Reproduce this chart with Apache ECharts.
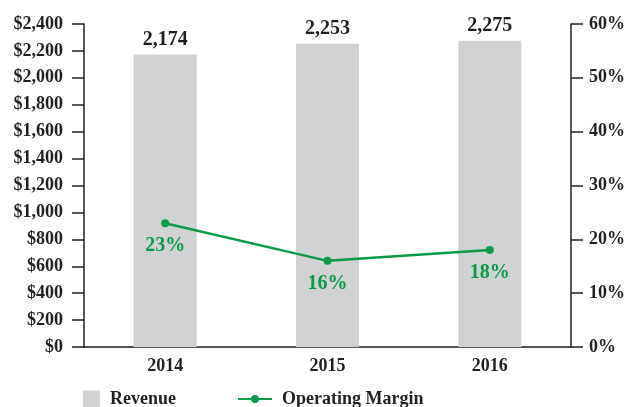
<!DOCTYPE html>
<html>
<head>
<meta charset="UTF-8">
<title>Revenue and Operating Margin</title>
<script src="https://cdn.jsdelivr.net/npm/echarts@6/dist/echarts.min.js"></script>
<style>
    html, body { margin: 0; padding: 0; background: #fff; }
    #main { width: 628px; height: 407px; }
</style>
</head>
<body>
<div id="main"></div>
<script>
    var years = ['2014', '2015', '2016'];
    var revenue = [2174, 2253, 2275];
    var margin = [23, 16, 18];

    var font = 'Liberation Serif';
    var ink = '#231f20';
    var green = '#0a9a48';

    function comma(v) {
        return String(v).replace(/\B(?=(\d{3})+(?!\d))/g, ',');
    }

    var chart = echarts.init(document.getElementById('main'));

    var option = {
        animation: false,
        textStyle: { fontFamily: font, color: ink },
        grid: { left: 84, right: 56, top: 24, bottom: 60 },
        legend: [{
            left: 78, bottom: -6,
            itemWidth: 17, itemHeight: 17,
            textStyle: { fontFamily: font, fontSize: 18, fontWeight: 'bold', color: ink, padding: [0, 0, 0, 5] },
            data: [{ name: 'Revenue', icon: 'rect' }]
        }, {
            left: 232, bottom: -6,
            itemWidth: 34, itemHeight: 10,
            textStyle: { fontFamily: font, fontSize: 18, fontWeight: 'bold', color: ink, padding: [0, 0, 0, 5] },
            data: ['Operating Margin']
        }],
        xAxis: {
            type: 'category',
            data: years,
            axisTick: { show: false },
            axisLine: { lineStyle: { color: ink, width: 1.5 } },
            axisLabel: { fontFamily: font, fontSize: 18, fontWeight: 'bold', color: ink, margin: 10 }
        },
        yAxis: [{
            type: 'value',
            min: 0, max: 2400, interval: 200,
            splitLine: { show: false },
            axisLine: { show: true, lineStyle: { color: ink, width: 1.5 } },
            axisTick: { show: true, inside: false, length: 12, lineStyle: { color: ink, width: 1.5 } },
            axisLabel: {
                fontFamily: font, fontSize: 18, fontWeight: 'bold', color: ink, margin: 21,
                formatter: function (v) { return '$' + comma(v); }
            }
        }, {
            type: 'value',
            position: 'right',
            min: 0, max: 60, interval: 10,
            splitLine: { show: false },
            axisLine: { show: true, lineStyle: { color: ink, width: 1.5 } },
            axisTick: { show: true, inside: false, length: 12, lineStyle: { color: ink, width: 1.5 } },
            axisLabel: {
                fontFamily: font, fontSize: 18, fontWeight: 'bold', color: ink, margin: 18,
                formatter: '{value}%'
            }
        }],
        series: [{
            name: 'Revenue',
            type: 'bar',
            data: revenue,
            barWidth: 63,
            itemStyle: { color: '#d1d2d4' },
            label: {
                show: true, position: 'top', distance: 5,
                fontFamily: font, fontSize: 20, fontWeight: 'bold', color: ink,
                formatter: function (p) { return comma(p.value); }
            }
        }, {
            name: 'Operating Margin',
            type: 'line',
            yAxisIndex: 1,
            data: margin,
            symbol: 'circle',
            symbolSize: 8,
            lineStyle: { color: green, width: 2.5 },
            itemStyle: { color: green },
            label: {
                show: true, position: 'bottom', distance: 9,
                fontFamily: font, fontSize: 20, fontWeight: 'bold', color: green,
                formatter: '{c}%'
            }
        }]
    };

    chart.setOption(option);
</script>
</body>
</html>
